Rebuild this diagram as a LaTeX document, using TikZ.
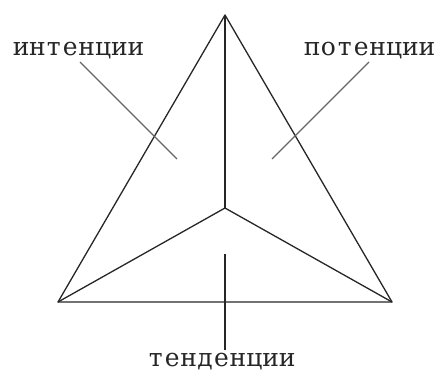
\documentclass[tikz,border=0pt]{standalone}
\usepackage{fontspec}
\newfontfamily\lblfont{DejaVu Serif}
\newcommand\mch[1]{\makebox[16.4pt]{#1}}
\begin{document}
\begin{tikzpicture}[x=1pt,y=-1pt,
  edge/.style={draw=black!85,line width=1.3pt,line join=round},
  leader/.style={draw=black!60,line width=1.3pt},
  lbl/.style={font=\lblfont\fontsize{25}{25}\selectfont,inner sep=0pt,text=black!85,anchor=base}]
\useasboundingbox (0,0) rectangle (436,372);
\coordinate (A) at (225,15);
\coordinate (L) at (58,302);
\coordinate (R) at (392,302);
\coordinate (C) at (225,208);
\draw[edge] (A) -- (L) -- (R) -- cycle;
\draw[edge] (A) -- (C);
\draw[edge] (L) -- (C) -- (R);
\node[lbl] (int) at (78.5,55) {\mch{и}\mch{н}\mch{т}\mch{е}\mch{н}\mch{ц}\mch{и}\mch{и}};
\node[lbl] (pot) at (369.5,55) {\mch{п}\mch{о}\mch{т}\mch{е}\mch{н}\mch{ц}\mch{и}\mch{и}};
\node[lbl] (ten) at (221.5,366) {\mch{т}\mch{е}\mch{н}\mch{д}\mch{е}\mch{н}\mch{ц}\mch{и}\mch{и}};
\coordinate (i1) at (80,62);
\coordinate (i2) at (177,159);
\coordinate (p1) at (369,62);
\coordinate (p2) at (272,159);
\coordinate (t1) at (225,254);
\coordinate (t2) at (225,350);
\draw[leader] (i1) -- (i2);
\draw[leader] (p1) -- (p2);
\draw[edge] (t1) -- (t2);
\end{tikzpicture}
\end{document}
